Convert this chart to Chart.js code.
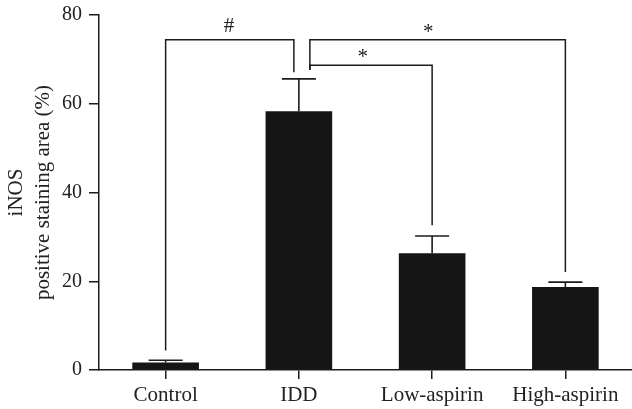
<!DOCTYPE html>
<html>
<head>
<meta charset="utf-8">
<script src="https://cdn.jsdelivr.net/npm/chart.js@4.4.1/dist/chart.umd.min.js"></script>
<style>
  html, body { margin: 0; padding: 0; background: #fff; }
  #wrap { width: 632px; height: 409px; }
</style>
</head>
<body>
<div id="wrap"><canvas id="chart"></canvas></div>
<script>
const groups = ['Control', 'IDD', 'Low-aspirin', 'High-aspirin'];
const means = [1.7, 58.3, 26.3, 18.7];
const errors = [0.5, 7.3, 3.9, 1.1];
const yTicks = [0, 20, 40, 60, 80];

// significance brackets (values in axis units)
const bracketFrom = [0, 1, 1];
const bracketTo = [1, 3, 2];
const bracketLevel = [74.4, 74.4, 68.7];
const legFromEnd = [4.4, 67.6, 67.6];
const legToEnd = [67.1, 22.1, 32.6];
const bracketMarks = ['#', '*', '*'];
const markAt = [0.475, 1.97, 1.48];

const ink = '#1c1c1c';
const serif = '"Liberation Serif", "DejaVu Serif", serif';
const bracketNudge = [[0, -5], [11, 0], [11, 0]];

// one-sided error bars
const errorBars = {
    id: 'errorBars',
    afterDatasetsDraw(chart) {
        const { ctx, scales: { x, y } } = chart;
        ctx.save();
        ctx.strokeStyle = ink;
        ctx.lineWidth = 1.6;
        means.forEach((m, i) => {
            const px = x.getPixelForValue(i);
            const top = y.getPixelForValue(m + errors[i]);
            ctx.beginPath();
            ctx.moveTo(px, y.getPixelForValue(m));
            ctx.lineTo(px, top);
            ctx.moveTo(px - 17, top);
            ctx.lineTo(px + 17, top);
            ctx.stroke();
        });
        ctx.restore();
    }
};

const brackets = {
    id: 'brackets',
    afterDatasetsDraw(chart) {
        const { ctx, scales: { x, y } } = chart;
        ctx.save();
        ctx.strokeStyle = ink;
        ctx.lineWidth = 1.5;
        ctx.fillStyle = '#222';
        ctx.font = '21px ' + serif;
        ctx.textAlign = 'center';
        ctx.textBaseline = 'alphabetic';
        bracketFrom.forEach((f, i) => {
            const x1 = x.getPixelForValue(f) + bracketNudge[i][0];
            const x2 = x.getPixelForValue(bracketTo[i]) + bracketNudge[i][1];
            const yl = y.getPixelForValue(bracketLevel[i]);
            ctx.beginPath();
            ctx.moveTo(x1, y.getPixelForValue(legFromEnd[i]));
            ctx.lineTo(x1, yl);
            ctx.lineTo(x2, yl);
            ctx.lineTo(x2, y.getPixelForValue(legToEnd[i]));
            ctx.stroke();
            // glyph bottom sits about 8px above the bracket line
            const m = ctx.measureText(bracketMarks[i]);
            ctx.fillText(bracketMarks[i], x.getPixelForValue(markAt[i]), yl - 8 - m.actualBoundingBoxDescent);
        });
        ctx.restore();
    }
};

new Chart(document.getElementById('chart'), {
    type: 'bar',
    data: {
        labels: groups,
        datasets: [{
            data: means,
            backgroundColor: '#151515',
            borderWidth: 0,
            barPercentage: 0.5,
            categoryPercentage: 1
        }]
    },
    options: {
        responsive: true,
        maintainAspectRatio: false,
        animation: false,
        layout: { padding: { top: 15, right: 0, bottom: 0, left: 0 } },
        plugins: { legend: { display: false }, tooltip: { enabled: false } },
        scales: {
            x: {
                offset: true,
                grid: { drawOnChartArea: false, drawTicks: true, tickLength: 9, offset: false, color: ink, lineWidth: 1.5 },
                border: { display: true, color: ink, width: 1.5 },
                ticks: { color: '#222', font: { family: serif, size: 21 }, padding: 4, maxRotation: 0, autoSkip: false },
                afterFit(s) { s.height = 39; }
            },
            y: {
                min: 0,
                max: 80,
                afterBuildTicks(s) { s.ticks = yTicks.map(v => ({ value: v })); },
                grid: { drawOnChartArea: false, drawTicks: true, tickLength: 10, color: ink, lineWidth: 1.5 },
                border: { display: true, color: ink, width: 1.5 },
                ticks: { color: '#222', font: { family: serif, size: 20 }, padding: 7 },
                title: {
                    display: true,
                    text: ['iNOS', 'positive staining area (%)'],
                    color: '#222',
                    font: { family: serif, size: 21, lineHeight: 1.3 },
                    padding: { top: 3, bottom: 0 }
                },
                afterFit(s) {
                    s.width = 99;
                    s.paddingTop = 0;
                    s.paddingBottom = 0;
                }
            }
        }
    },
    plugins: [errorBars, brackets]
});
</script>
</body>
</html>
